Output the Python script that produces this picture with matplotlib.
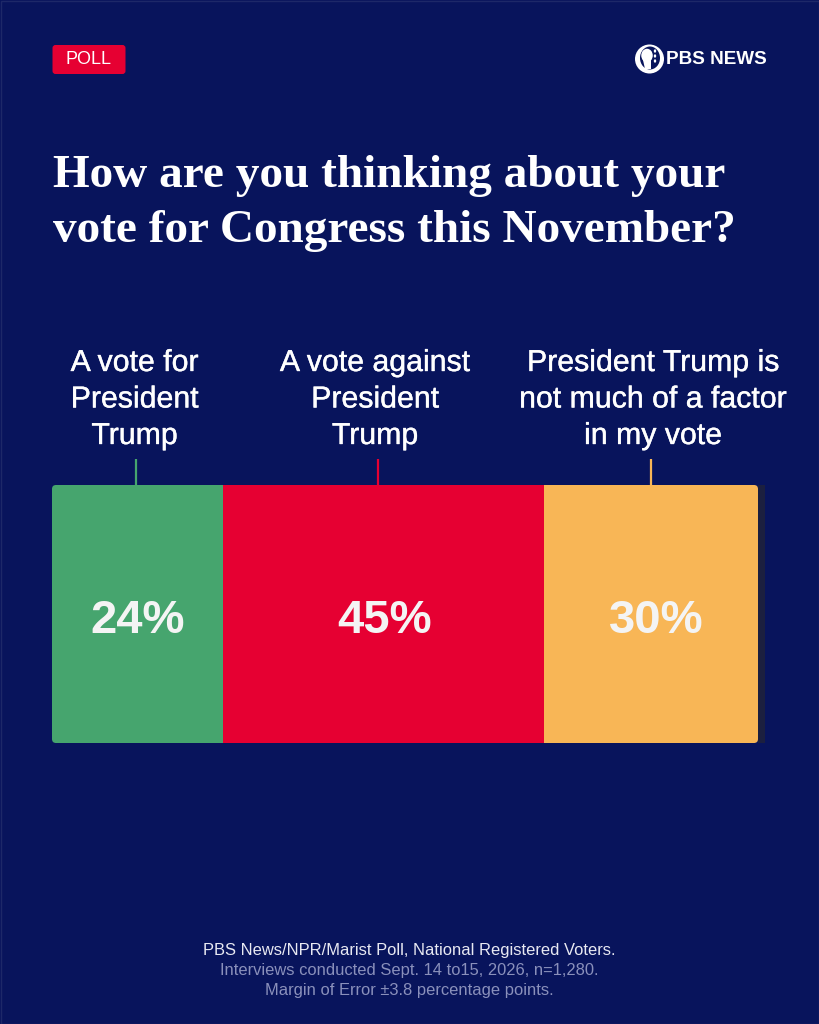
import matplotlib
matplotlib.use("Agg")
import matplotlib.pyplot as plt
from matplotlib.patches import FancyBboxPatch, Circle, Ellipse, Polygon
import matplotlib.patheffects as pe

W, H = 819, 1024
BG = "#08145c"
SANS = ["Liberation Sans", "DejaVu Sans"]

categories = ["A vote for\nPresident\nTrump", "A vote against\nPresident\nTrump",
              "President Trump is\nnot much of a factor\nin my vote", ""]
values = [24, 45, 30, 1]
value_labels = ["24%", "45%", "30%", ""]
value_label_shift = [0, 0.15, 0.7, 0]
colors = ["#46a56e", "#e60032", "#f8b656", "#1b1f3f"]
label_centers = [134.5, 375, 653]
stem_x = [136, 378, 651]

title_lines = ["How are you thinking about your", "vote for Congress this November?"]
source_lines = ["PBS News/NPR/Marist Poll, National Registered Voters.",
                "Interviews conducted Sept. 14 to15, 2026, n=1,280.",
                "Margin of Error ±3.8 percentage points."]
source_colors = ["#e8e9f2", "#8a90bb", "#8a90bb"]

fig = plt.figure(figsize=(W / 100, H / 100), dpi=100, facecolor=BG)
bgax = fig.add_axes([0, 0, 1, 1])
bgax.set_xlim(0, W)
bgax.set_ylim(H, 0)
bgax.axis("off")

bgax.add_patch(plt.Rectangle((0.5, 0.5), W - 1, H - 1, fill=False, ec="#1d2868", lw=1))

medium = [pe.withStroke(linewidth=0.25, foreground="white")]

# POLL badge
bgax.add_patch(FancyBboxPatch((52.5, 45), 73, 29, boxstyle="round,pad=0,rounding_size=3",
                              fc="#e60032", ec="none"))
bgax.text(88.5, 59.5, "POLL", color="white", fontsize=13, family=SANS,
          ha="center", va="center")

# PBS NEWS logo
bgax.add_patch(Circle((649.5, 59), 14.5, fc="white", ec="none"))
bgax.add_patch(Ellipse((650, 58), 20, 23, fc=BG, ec="none"))
bgax.add_patch(Ellipse((647, 55.5), 11.5, 13.5, fc="white", ec="none"))
bgax.add_patch(Polygon([(643, 60), (651, 60), (651, 69), (645, 69)], fc="white", ec="none"))
for yy in (51, 56, 61):
    bgax.add_patch(Ellipse((655, yy), 2.4, 3.4, fc="white", ec="none"))
bgax.text(666, 59, "PBS NEWS", color="white", fontsize=13.6, fontweight="bold",
          family=SANS, ha="left", va="center")

# Title
for line, y in zip(title_lines, [176, 231]):
    bgax.text(53, y, line, color="white", fontsize=34, fontweight="bold",
              family="Liberation Serif", ha="left", va="center")

# Category labels
for cat, cx in zip(categories, label_centers):
    for i, part in enumerate(cat.split("\n")):
        if part:
            bgax.text(cx, 363 + i * 36.5, part, color="white", fontsize=21.8,
                      family=SANS, ha="center", va="center", path_effects=medium)

# Stems
for x, c in zip(stem_x, colors):
    bgax.plot([x, x], [459, 485], color=c, lw=1.6, solid_capstyle="butt")

# Bar
ax = fig.add_axes([52 / W, 1 - 743 / H, 713 / W, (743 - 485) / H])
ax.set_xlim(0, 100)
ax.set_ylim(-0.5, 0.5)
ax.axis("off")
left = 0
for v, c, lab, sh in zip(values, colors, value_labels, value_label_shift):
    bar = ax.barh(0, v, left=left, height=1, color=c, edgecolor="none")[0]
    if c != colors[3]:
        clip = FancyBboxPatch((52, 485), 706, 258,
                              boxstyle="round,pad=0,rounding_size=4",
                              transform=bgax.transData, fc="none", ec="none")
        fig.add_artist(clip)
        bar.set_clip_path(clip)
    if lab:
        ax.text(left + v / 2 + sh, -0.028, lab, color="#f4f4f4", fontsize=34,
                family=SANS, fontweight="bold", ha="center", va="center")
    left += v

# Source
for line, y, c in zip(source_lines, [950, 970, 990], source_colors):
    bgax.text(409, y, line, color=c, fontsize=11.85, family=SANS, ha="center", va="center")

fig.savefig("out.png", dpi=100, facecolor=BG)
